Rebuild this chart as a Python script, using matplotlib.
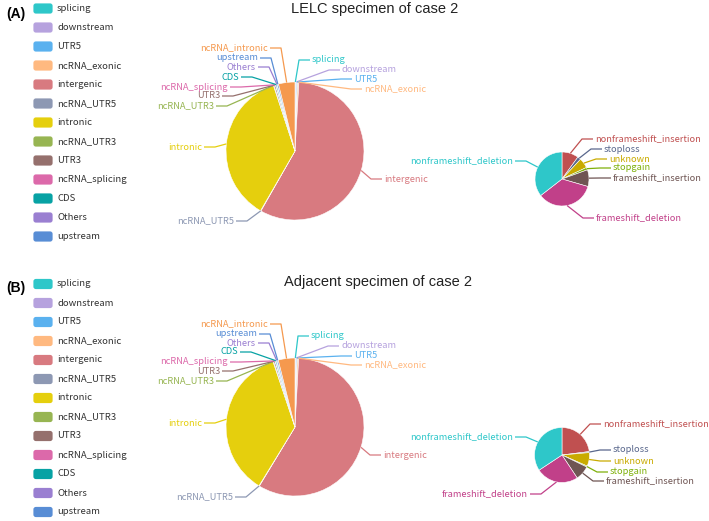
import matplotlib
matplotlib.use('Agg')
import matplotlib.pyplot as plt
from matplotlib.patches import FancyBboxPatch
import numpy as np

# 区域分类（大饼图）
region_names = ['splicing', 'downstream', 'UTR5', 'ncRNA_exonic', 'intergenic', 'ncRNA_UTR5',
                'intronic', 'ncRNA_UTR3', 'UTR3', 'ncRNA_splicing', 'CDS', 'Others', 'upstream',
                'ncRNA_intronic']
region_lelc = [0.15, 0.25, 0.2, 0.3, 57.3, 0.1, 36.6, 0.15, 0.3, 0.1, 0.25, 0.1, 0.3, 3.85]
region_adj = [0.15, 0.2, 0.2, 0.3, 57.8, 0.1, 36.1, 0.15, 0.3, 0.1, 0.25, 0.15, 0.3, 3.9]

# 外显子功能分类（小饼图）
exonic_names = ['nonframeshift_insertion', 'stoploss', 'unknown', 'stopgain',
                'frameshift_insertion', 'frameshift_deletion', 'nonframeshift_deletion']
exonic_lelc = [10, 2, 6, 1.5, 10, 35, 35.5]
exonic_adj = [23, 0.6, 8, 0.6, 8.5, 25, 34.3]

# macarons 配色
macarons = ['#2ec7c9', '#b6a2de', '#5ab1ef', '#ffb980', '#d87a80', '#8d98b3', '#e5cf0d',
            '#97b552', '#95706d', '#dc69aa', '#07a2a4', '#9a7fd1', '#588dd5', '#f5994e',
            '#c05050', '#59678c', '#c9ab00', '#7eb00a', '#6f5553', '#c14089']
region_colors = macarons[:14]
exonic_colors = macarons[14:20] + [macarons[0]]

W, H = 709, 521
label_font = ['Noto Sans CJK SC', 'DejaVu Sans']

# 标签位置（像素坐标，左上为原点）
big_labels_A = {
    'ncRNA_intronic': (268, 48), 'upstream': (258, 58), 'Others': (256, 67), 'CDS': (239, 77),
    'ncRNA_splicing': (228, 87), 'UTR3': (220, 96), 'ncRNA_UTR3': (214, 106), 'intronic': (202, 147),
    'ncRNA_UTR5': (234, 221), 'splicing': (312, 60), 'downstream': (342, 70), 'UTR5': (354, 79),
    'ncRNA_exonic': (364, 89), 'intergenic': (384, 179),
}
big_labels_B = {
    'ncRNA_intronic': (268, 324), 'upstream': (257, 334), 'Others': (256, 343), 'CDS': (238, 352),
    'ncRNA_splicing': (228, 362), 'UTR3': (220, 371), 'ncRNA_UTR3': (214, 381), 'intronic': (202, 423),
    'ncRNA_UTR5': (233, 497), 'splicing': (311, 336), 'downstream': (341, 346), 'UTR5': (354, 356),
    'ncRNA_exonic': (364, 365), 'intergenic': (383, 455),
}
small_labels_A = {
    'nonframeshift_insertion': (595, 139), 'stoploss': (604, 149), 'unknown': (609, 159),
    'stopgain': (613, 168), 'frameshift_insertion': (613, 178), 'frameshift_deletion': (596, 218),
    'nonframeshift_deletion': (513, 161),
}
small_labels_B = {
    'nonframeshift_insertion': (603, 424), 'stoploss': (613, 450), 'unknown': (613, 461),
    'stopgain': (610, 472), 'frameshift_insertion': (606, 481), 'frameshift_deletion': (528, 494),
    'nonframeshift_deletion': (513, 437),
}


def draw_pie(ax, values, names, colors, cx, cy, r, labels, fs=6.7):
    wedges, _ = ax.pie(values, colors=colors, center=(cx, H - cy), radius=r, startangle=90,
                       counterclock=False, wedgeprops=dict(edgecolor='white', linewidth=0.4))
    for w, name, c in zip(wedges, names, colors):
        tx, ty = labels[name]
        ty = H - ty
        mid = np.deg2rad((w.theta1 + w.theta2) / 2)
        px = cx + r * np.cos(mid)
        py = H - cy + r * np.sin(mid)
        side = 1 if tx > cx else -1
        elbow = (tx - side * 13, ty)
        ax.plot([px, elbow[0], tx - side * 2], [py, elbow[1], ty], color=c, lw=0.9,
                solid_capstyle='butt')
        ax.text(tx, ty, name, color=c, fontsize=fs, family=label_font,
                ha='left' if side > 0 else 'right', va='center')


def draw_legend(ax, names, colors, y0):
    for i, (name, c) in enumerate(zip(names, colors)):
        y = y0 + i * 19
        box = FancyBboxPatch((34, H - y - 4.5), 18, 9, boxstyle='round,pad=0.6,rounding_size=2.5',
                             facecolor=c, edgecolor='none')
        ax.add_patch(box)
        ax.text(57, H - y, name, color='#333333', fontsize=6.9, family=label_font, va='center')


fig = plt.figure(figsize=(W / 100, H / 100), dpi=100)
ax = fig.add_axes([0, 0, 1, 1])

draw_pie(ax, region_lelc, region_names, region_colors, 295, 151, 69, big_labels_A)
draw_pie(ax, exonic_lelc, exonic_names, exonic_colors, 562, 179, 27, small_labels_A)
draw_pie(ax, region_adj, region_names, region_colors, 295, 427, 69, big_labels_B)
draw_pie(ax, exonic_adj, exonic_names, exonic_colors, 562, 455, 27.5, small_labels_B)

draw_legend(ax, region_names[:13], region_colors[:13], 8.5)
draw_legend(ax, region_names[:13], region_colors[:13], 284)

ax.text(16, H - 14, '(A)', fontsize=10, fontweight='bold', family='Liberation Sans',
        ha='center', va='center')
ax.text(16, H - 288, '(B)', fontsize=10, fontweight='bold', family='Liberation Sans',
        ha='center', va='center')
ax.text(375, H - 9, 'LELC specimen of case 2', fontsize=10.5, family='Liberation Sans',
        ha='center', va='center', color='#222222')
ax.text(378, H - 282, 'Adjacent specimen of case 2', fontsize=10.5, family='Liberation Sans',
        ha='center', va='center', color='#222222')

ax.set_xlim(0, W)
ax.set_ylim(0, H)
ax.set_aspect('equal')
ax.axis('off')

fig.savefig('out.png', dpi=100)
